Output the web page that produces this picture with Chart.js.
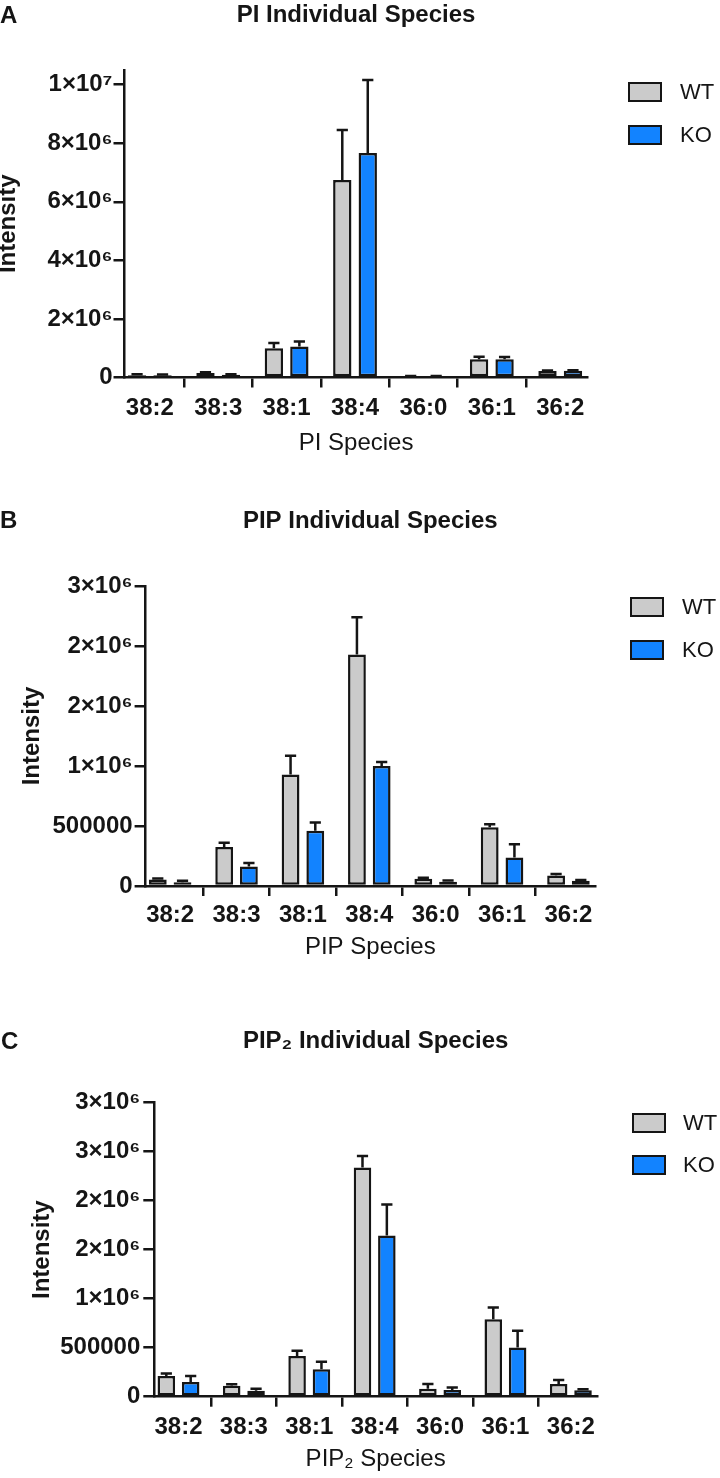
<!DOCTYPE html>
<html><head><meta charset="utf-8">
<script src="https://cdn.jsdelivr.net/npm/chart.js@4.4.1/dist/chart.umd.min.js"></script>
<style>
html,body{margin:0;padding:0;background:#fff;}
#page{position:relative;width:720px;height:1478px;overflow:hidden;font-family:"Liberation Sans",Arial,sans-serif;color:#151515;}
canvas{position:absolute;left:0;}
.letter{position:absolute;font-weight:bold;font-size:24px;line-height:1;}
.lg{position:absolute;width:34px;height:20px;box-sizing:border-box;border:2.5px solid #151515;}
.lt{position:absolute;font-size:22px;line-height:20px;white-space:nowrap;}
</style></head><body>
<div id="page">
  <canvas id="cA" width="720" height="470" style="top:0px"></canvas>
  <canvas id="cB" width="720" height="490" style="top:480px"></canvas>
  <canvas id="cC" width="720" height="488" style="top:990px"></canvas>

  <div class="letter" style="left:0px;top:3px">A</div>
  <div class="letter" style="left:0px;top:508px">B</div>
  <div class="letter" style="left:1px;top:1029px">C</div>

  <div class="lg" style="left:628px;top:82px;background:#cbcbcb"></div><div class="lt" style="left:680px;top:82px">WT</div>
  <div class="lg" style="left:628px;top:125px;background:#1283ff"></div><div class="lt" style="left:680px;top:125px">KO</div>

  <div class="lg" style="left:630px;top:597px;background:#cbcbcb"></div><div class="lt" style="left:682px;top:597px">WT</div>
  <div class="lg" style="left:630px;top:640px;background:#1283ff"></div><div class="lt" style="left:682px;top:640px">KO</div>

  <div class="lg" style="left:632px;top:1113px;background:#cbcbcb"></div><div class="lt" style="left:683px;top:1113px">WT</div>
  <div class="lg" style="left:632px;top:1155px;background:#1283ff"></div><div class="lt" style="left:683px;top:1155px">KO</div>
</div>
<script>
// ---------- data ----------
const categories = ["38:2","38:3","38:1","38:4","36:0","36:1","36:2"];
const seriesNames = ["WT","KO"];

// Panel A: PI
const piWT     = [80000, 150000, 1000000, 6740000, 40000, 620000, 220000];
const piWTsem  = [30000, 30000, 180000, 1710000, 10000, 90000, 20000];
const piKO     = [80000, 90000, 1060000, 7670000, 40000, 620000, 230000];
const piKOsem  = [20000, 20000, 170000, 2490000, 10000, 80000, 20000];
const piTicks      = [0, 2e6, 4e6, 6e6, 8e6, 1e7];
const piTickLabels = ["0","2×10⁶","4×10⁶","6×10⁶","8×10⁶","1×10⁷"];

// Panel B: PIP
const pipWT    = [55000, 325000, 930000, 1930000, 60000, 490000, 88000];
const pipWTsem = [7000, 35000, 155000, 310000, 9000, 25000, 13000];
const pipKO    = [32000, 162000, 460000, 1000000, 35000, 238000, 43000];
const pipKOsem = [12000, 30000, 70000, 33000, 11000, 110000, 6000];
const pipTicks      = [0, 500000, 1000000, 1500000, 2000000, 2500000];
const pipTickLabels = ["0","500000","1×10⁶","2×10⁶","2×10⁶","3×10⁶"];

// Panel C: PIP2
const pip2WT    = [210000, 112000, 415000, 2340000, 82000, 790000, 130000];
const pip2WTsem = [28000, 14000, 55000, 116000, 48000, 120000, 40000];
const pip2KO    = [150000, 61000, 280000, 1646000, 68000, 503000, 65000];
const pip2KOsem = [60000, 21000, 77000, 314000, 27000, 170000, 10000];
const pip2Ticks      = [0, 500000, 1000000, 1500000, 2000000, 2500000, 3000000];
const pip2TickLabels = ["0","500000","1×10⁶","2×10⁶","2×10⁶","3×10⁶","3×10⁶"];

// ---------- style ----------
const GRAY = '#cbcbcb', BLUE = '#1283ff', EDGE = '#151515';
const FAM = '"Liberation Sans", Arial, sans-serif';
Chart.defaults.font.family = FAM;
Chart.defaults.color = EDGE;

const errorBars = {
  id: 'errorBars',
  afterDatasetsDraw(chart) {
    const ctx = chart.ctx, ys = chart.scales.y;
    chart.data.datasets.forEach((ds, di) => {
      const meta = chart.getDatasetMeta(di);
      meta.data.forEach((bar, i) => {
        const top = ys.getPixelForValue(ds.data[i].y + ds.err[i]);
        ctx.save();
        ctx.strokeStyle = EDGE; ctx.lineWidth = 2.5; ctx.lineCap = 'butt';
        ctx.beginPath();
        ctx.moveTo(bar.x, bar.y); ctx.lineTo(bar.x, top);
        ctx.moveTo(bar.x - 5.6, top); ctx.lineTo(bar.x + 5.6, top);
        ctx.stroke();
        ctx.restore();
      });
    });
  }
};

function panel(id, L, d) {
  const canvas = document.getElementById(id);
  const H = canvas.height, T = L.canvasTop;
  const plotTop = L.plotTop - T, zeroY = L.zeroY - T;
  const titleY = L.titleY - T, xTitleY = L.xTitleY - T, xLabelY = L.xLabelY - T;
  const mk = (vals) => vals.map((v, i) => ({x: i, y: v}));
  new Chart(canvas, {
    type: 'bar',
    data: {
      datasets: [
        {label: seriesNames[0], data: mk(d.wt), err: d.wtSem, backgroundColor: GRAY,
         borderColor: EDGE, borderWidth: 2.5, borderSkipped: false},
        {label: seriesNames[1], data: mk(d.ko), err: d.koSem, backgroundColor: BLUE,
         borderColor: EDGE, borderWidth: 2.5, borderSkipped: false}
      ]
    },
    options: {
      responsive: false,
      animation: false,
      events: [],
      layout: {padding: {left: 0, top: 0, bottom: 0, right: 720 - L.axisRight}},
      datasets: {bar: {categoryPercentage: 0.745, barPercentage: 0.72}},
      plugins: {
        legend: {display: false},
        tooltip: {enabled: false},
        title: {
          display: true, text: d.title, fullSize: false, color: EDGE,
          font: {size: 24, weight: 'bold', lineHeight: 1.2},
          padding: {top: titleY - 14.4, bottom: plotTop - (titleY - 14.4) - 28.8}
        }
      },
      scales: {
        x: {
          type: 'linear', min: -0.37, max: 6.4, offset: false,
          afterBuildTicks: s => { s.ticks = categories.map((c, i) => ({value: i})); },
          afterFit: s => { s.height = H - zeroY; },
          ticks: {autoSkip: false, maxRotation: 0, minRotation: 0, color: EDGE,
                  padding: xLabelY - zeroY - 10 - 14.4,
                  font: {size: 24, weight: 'bold', lineHeight: 1.2},
                  callback: (v, i) => categories[i]},
          grid: {drawOnChartArea: false, drawTicks: true, tickLength: 10, color: EDGE, lineWidth: 2.5},
          border: {display: true, color: EDGE, width: 2.5},
          title: {display: true, text: d.xTitle, color: EDGE,
                  font: {size: 24, weight: 'normal', lineHeight: 1.2},
                  padding: {top: 0, bottom: H - xTitleY - 14.4}}
        },
        y: {
          min: 0, max: d.max,
          afterBuildTicks: s => { s.ticks = d.ticks.map(v => ({value: v})); },
          afterFit: s => { s.width = L.axisLeft; },
          ticks: {padding: L.yPad, color: EDGE,
                  font: {size: 24, weight: 'bold', lineHeight: 1.2},
                  callback: (v, i) => d.tickLabels[i]},
          grid: {drawOnChartArea: false, drawTicks: true, tickLength: 11, color: EDGE, lineWidth: 2.5},
          border: {display: true, color: EDGE, width: 2.5},
          title: {display: true, text: 'Intensity', color: EDGE,
                  font: {size: 24, weight: 'bold', lineHeight: 1},
                  padding: {top: L.yTitleX - 2.25 - 12, bottom: 0}}
        }
      }
    },
    plugins: [errorBars]
  });
}

panel('cA',
  {canvasTop: 0, plotTop: 70, zeroY: 377.5, titleY: 15.5, xLabelY: 408, xTitleY: 443,
   axisLeft: 124.5, axisRight: 587.6, yTitleX: 10.5, yPad: 1},
  {title: 'PI Individual Species', xTitle: 'PI Species', max: 1.05e7,
   wt: piWT, wtSem: piWTsem, ko: piKO, koSem: piKOsem, ticks: piTicks, tickLabels: piTickLabels});

panel('cB',
  {canvasTop: 480, plotTop: 586, zeroY: 886, titleY: 521, xLabelY: 915.5, xTitleY: 947,
   axisLeft: 145.6, axisRight: 595, yTitleX: 35, yPad: 2},
  {title: 'PIP Individual Species', xTitle: 'PIP Species', max: 2.5e6,
   wt: pipWT, wtSem: pipWTsem, ko: pipKO, koSem: pipKOsem, ticks: pipTicks, tickLabels: pipTickLabels});

panel('cC',
  {canvasTop: 990, plotTop: 1102.7, zeroY: 1396.7, titleY: 1041.5, xLabelY: 1427, xTitleY: 1459.5,
   axisLeft: 154.3, axisRight: 597, yTitleX: 44.7, yPad: 3},
  {title: 'PIP₂ Individual Species', xTitle: 'PIP₂ Species', max: 3e6,
   wt: pip2WT, wtSem: pip2WTsem, ko: pip2KO, koSem: pip2KOsem, ticks: pip2Ticks, tickLabels: pip2TickLabels});
</script>
</body></html>
